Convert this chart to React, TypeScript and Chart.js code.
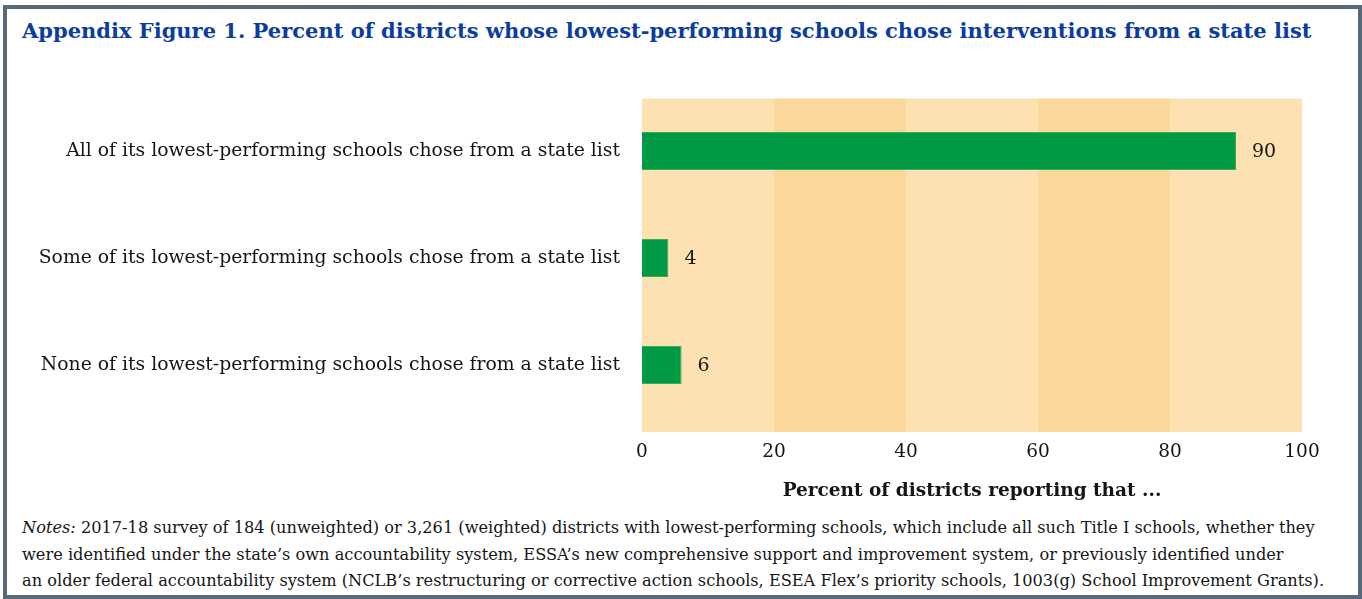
import React, { useEffect, useRef } from "react";
import { Chart, registerables } from "chart.js";

Chart.register(...registerables);

const TITLE =
  "Appendix Figure 1. Percent of districts whose lowest-performing schools chose interventions from a state list";

const categories = [
  "All of its lowest-performing schools chose from a state list",
  "Some of its lowest-performing schools chose from a state list",
  "None of its lowest-performing schools chose from a state list",
];
const values = [90, 4, 6];

const xTicks = [0, 20, 40, 60, 80, 100];
const bandEdges = [0, 20, 40, 60, 80, 100];
const bandShaded = [false, true, false, true, false];
const xAxisTitle = "Percent of districts reporting that ...";

const notesLabel = "Notes:";
const notesLines = [
  " 2017-18 survey of 184 (unweighted) or 3,261 (weighted) districts with lowest-performing schools, which include all such Title I schools, whether they",
  "were identified under the state\u2019s own accountability system, ESSA\u2019s new comprehensive support and improvement system, or previously identified under",
  "an older federal accountability system (NCLB\u2019s restructuring or corrective action schools, ESEA Flex\u2019s priority schools, 1003(g) School Improvement Grants).",
];

const SERIF = "'DejaVu Serif', 'Liberation Serif', serif";
const TEXT = "#151515";
const LIGHT_BAND = "#FDE1B3";
const DARK_BAND = "#FBD79B";
const BAR_FILL = "#009A44";
const BAR_EDGE = "#34B04E";

const bandsPlugin = {
  id: "bands",
  beforeDatasetsDraw(chart: any) {
    const { ctx, chartArea } = chart;
    const x = chart.scales.x;
    const top = chartArea.top + 1;
    const bottom = chartArea.bottom + 13.5;
    ctx.save();
    for (let i = 0; i < bandEdges.length - 1; i++) {
      const x0 = x.getPixelForValue(bandEdges[i]);
      const x1 = x.getPixelForValue(bandEdges[i + 1]);
      ctx.fillStyle = bandShaded[i] ? DARK_BAND : LIGHT_BAND;
      ctx.fillRect(x0, top, x1 - x0, bottom - top);
    }
    ctx.restore();
  },
};

const valueLabelsPlugin = {
  id: "valueLabels",
  afterDatasetsDraw(chart: any) {
    const { ctx } = chart;
    const meta = chart.getDatasetMeta(0);
    ctx.save();
    ctx.font = `19px ${SERIF}`;
    ctx.fillStyle = TEXT;
    ctx.textAlign = "left";
    ctx.textBaseline = "middle";
    meta.data.forEach((bar: any, i: number) => {
      ctx.fillText(String(values[i]), bar.x + 16, bar.y + 1);
    });
    ctx.restore();
  },
};

function BarChart() {
  const canvasRef = useRef<HTMLCanvasElement | null>(null);

  useEffect(() => {
    if (!canvasRef.current) return;
    const chart = new Chart(canvasRef.current, {
      type: "bar",
      data: {
        labels: categories,
        datasets: [
          {
            data: values,
            backgroundColor: BAR_FILL,
            borderColor: BAR_EDGE,
            borderWidth: 1,
            barPercentage: 0.355,
            categoryPercentage: 1,
          },
        ],
      },
      options: {
        indexAxis: "y",
        animation: false,
        responsive: true,
        maintainAspectRatio: false,
        layout: { padding: { left: 0, right: 60, top: 37.5, bottom: 4.3 } },
        plugins: {
          legend: { display: false },
          tooltip: { enabled: false },
          title: { display: false },
        },
        scales: {
          x: {
            type: "linear",
            min: 0,
            max: 100,
            grid: { display: false, drawTicks: false, tickLength: 0 },
            border: { display: false },
            afterBuildTicks: (scale: any) => {
              scale.ticks = xTicks.map((v) => ({ value: v }));
            },
            ticks: {
              padding: 22.4,
              color: TEXT,
              font: { family: SERIF, size: 18.5 },
            },
            title: {
              display: true,
              text: xAxisTitle,
              color: TEXT,
              font: { family: SERIF, size: 18.5, weight: "bold" },
              padding: { top: -5, bottom: 0 },
            },
          },
          y: {
            type: "category",
            grid: { display: false, drawTicks: false, tickLength: 0 },
            border: { display: false },
            afterFit: (scale: any) => {
              scale.width = 642;
            },
            ticks: {
              padding: 22,
              color: TEXT,
              font: { family: SERIF, size: 18.8 },
            },
          },
        },
      },
      plugins: [bandsPlugin, valueLabelsPlugin],
    });
    return () => chart.destroy();
  }, []);

  return (
    <div
      style={{
        position: "absolute",
        left: 0,
        top: 60,
        width: 1362,
        height: 447,
      }}
    >
      <canvas ref={canvasRef} />
    </div>
  );
}

export default function App() {
  useEffect(() => {
    document.body.style.margin = "0";
  }, []);
  return (
    <div
      style={{
        position: "relative",
        width: 1362,
        height: 599,
        background: "#ffffff",
        overflow: "hidden",
        fontFamily: SERIF,
      }}
    >
      <div
        style={{
          position: "absolute",
          left: 3,
          top: 5,
          width: 1359,
          height: 594,
          boxSizing: "border-box",
          border: "4px solid #566A7B",
        }}
      />
      <div
        style={{
          position: "absolute",
          left: 22,
          top: 15.7,
          fontSize: 21,
          lineHeight: "30px",
          fontWeight: "bold",
          color: "#0C3D9E",
          whiteSpace: "nowrap",
        }}
      >
        {TITLE}
      </div>
      <BarChart />
      <div
        style={{
          position: "absolute",
          left: 22,
          top: 515,
          fontSize: 16.2,
          lineHeight: "26.7px",
          color: TEXT,
          whiteSpace: "nowrap",
        }}
      >
        <div>
          <i>{notesLabel}</i>
          {notesLines[0]}
        </div>
        <div>{notesLines[1]}</div>
        <div>{notesLines[2]}</div>
      </div>
    </div>
  );
}
